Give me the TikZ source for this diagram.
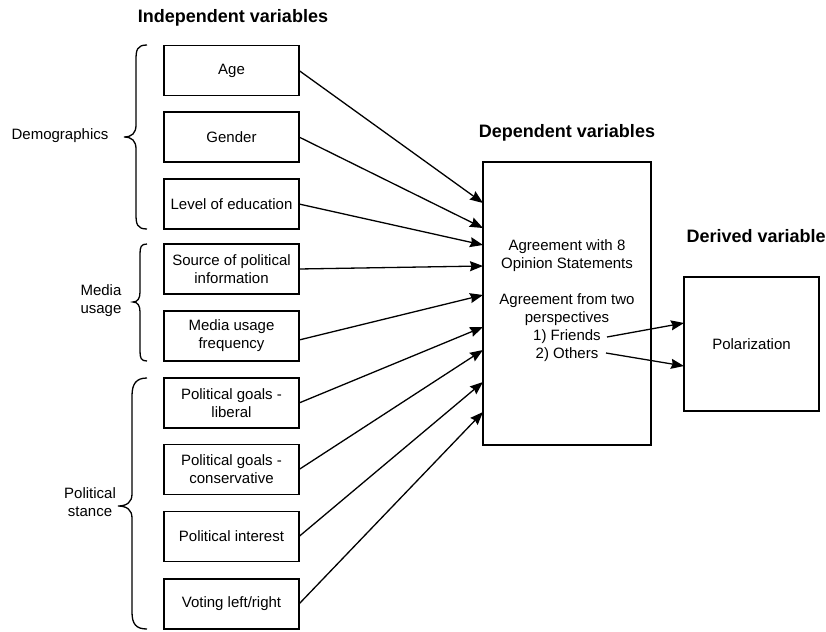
\documentclass[tikz,border=0pt]{standalone}
\usepackage{fontspec}
\setmainfont{Liberation Sans}
\usetikzlibrary{arrows.meta}
\begin{document}
\begin{tikzpicture}[x=1pt,y=-1pt,
  box/.style={draw,line width=1.3pt,minimum width=135pt,minimum height=50pt,inner sep=0pt,outer sep=0pt,align=center,font=\fontsize{15}{18}\selectfont},
  ttl/.style={font=\fontsize{18}{21}\selectfont\bfseries,anchor=base},
  lbl/.style={align=center,font=\fontsize{15}{18}\selectfont},
  arr/.style={line width=1.3pt,-{Stealth[length=13pt,width=10pt,inset=1.5pt]}},
  brc/.style={line width=1.3pt}]
\useasboundingbox (0,0) rectangle (826,631);
% titles
\node[ttl] (t1) at (233,23) {Independent variables};
\node[ttl] (t2) at (567,138) {Dependent variables};
\node[ttl,anchor=base west] (t3) at (683,242) {Derived variable};
% boxes
\node[box] (age) at (231.5,70.5) {Age};
\node[box] (gen) at (231.5,137) {Gender};
\node[box] (edu) at (231.5,204) {Level of education};
\node[box] (src) at (231.5,269) {Source of political\\information};
\node[box] (med) at (231.5,336) {Media usage\\frequency};
\node[box] (lib) at (231.5,403) {Political goals -\\liberal};
\node[box] (con) at (231.5,469.5) {Political goals -\\conservative};
\node[box] (int) at (231.5,536.5) {Political interest};
\node[box] (vot) at (231.5,604) {Voting left/right};
\node[box,minimum width=168pt,minimum height=283pt] (dep) at (567,303.5) {};
\node[lbl] (deptxt) at (567,301) {Agreement with 8\\Opinion Statements\\[18pt]Agreement from two\\perspectives\\1) Friends\\2) Others};
\node[box,minimum width=135pt,minimum height=134pt] (der) at (751.5,344) {Polarization};
% group labels
\node[lbl] (demo) at (60,136) {Demographics};
\node[lbl] (media) at (101,301) {Media\\usage};
\node[lbl] (pol) at (90,502) {Political\\stance};
% braces
\draw[brc] (147,45) .. controls (137,45) and (136,50) .. (136,60) -- (136,125) .. controls (136,133) and (132,137) .. (124,137)
  .. controls (132,137) and (136,141) .. (136,149) -- (136,214) .. controls (136,224) and (137,229) .. (147,229);
\draw[brc] (147,244) .. controls (141,244) and (140,247) .. (140,254) -- (140,292) .. controls (140,298) and (138,302) .. (133,302)
  .. controls (138,302) and (140,306) .. (140,312) -- (140,351) .. controls (140,358) and (141,361) .. (147,361);
\draw[brc] (147,378) .. controls (136,378) and (132,384) .. (132,396) -- (132,494) .. controls (132,502) and (127,506) .. (118,506)
  .. controls (127,506) and (132,510) .. (132,518) -- (132,612) .. controls (132,624) and (136,629) .. (147,629);
% arrows
\draw[arr] (age.east) -- ([yshift=-41pt]dep.north west);
\draw[arr] (gen.east) -- ([yshift=-66pt]dep.north west);
\draw[arr] (edu.east) -- ([yshift=-83pt]dep.north west);
\draw[arr] (src.east) -- ([yshift=-104pt]dep.north west);
\draw[arr] ([yshift=-4pt]med.east) -- ([yshift=-133pt]dep.north west);
\draw[arr] (lib.east) -- ([yshift=-165pt]dep.north west);
\draw[arr] (con.east) -- ([yshift=-188pt]dep.north west);
\draw[arr] (int.east) -- ([yshift=-220pt]dep.north west);
\draw[arr] (vot.east) -- ([yshift=-250pt]dep.north west);
\coordinate (fr) at (607,337);
\coordinate (ot) at (606,353);
\draw[arr] (fr) -- ([yshift=-46pt]der.north west);
\draw[arr] (ot) -- ([yshift=-89pt]der.north west);
\end{tikzpicture}
\end{document}
